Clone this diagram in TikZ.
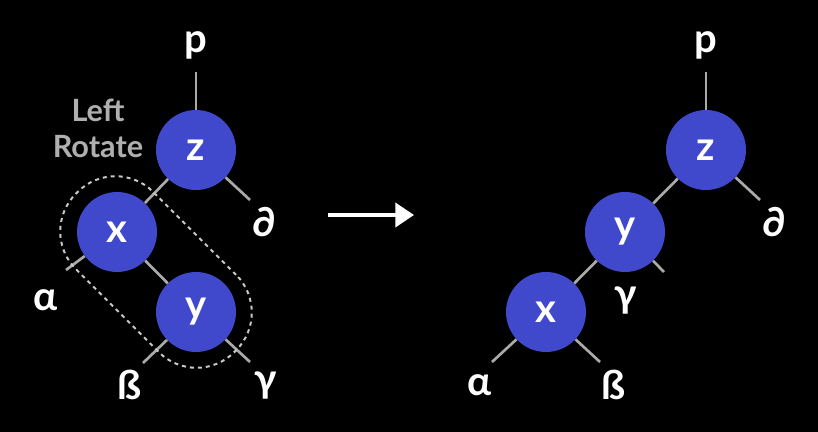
\documentclass[tikz,border=0pt]{standalone}
\usepackage{fontspec}
\setmainfont{Lato}
\usepackage{tikz}
\usetikzlibrary{arrows.meta}
\begin{document}
\begin{tikzpicture}[x=0.75pt,y=0.75pt,yscale=-1,xscale=1,
  rb/.style={circle,fill={rgb,255:red,64;green,72;blue,204},minimum size=60pt,inner sep=0pt,text=white,font=\fontsize{30}{32}\bfseries\selectfont},
  lbl/.style={text=white,font=\fontsize{30}{32}\bfseries\selectfont,inner sep=0pt},
  edge/.style={draw={rgb,255:red,170;green,170;blue,170},line width=2pt}]
%background
\fill[black] (0,0) rectangle (818,432);
\useasboundingbox (0,0) rectangle (818,432);

%left tree
\node[rb] (z1) at (196,150) {z};
\node[rb] (x1) at (117,232) {x};
\node[rb] (y1) at (196,312) {y};
\node[lbl] (p1) at (196,45) {p};
\node[lbl] (d1) at (264,222) {∂};
\node[lbl] (a1) at (46,300) {α};
\node[lbl] (b1) at (130,385) {ß};
\node[lbl] (g1) at (266,385) {γ};
\coordinate (pe1) at (196,72);
\coordinate (de1) at (250,200);
\coordinate (ae1) at (66,270);
\coordinate (be1) at (143,363);
\coordinate (ge1) at (250,362);
\draw[edge] (pe1) -- (z1);
\draw[edge] (z1) -- (de1);
\draw[edge] (z1) -- (x1);
\draw[edge] (x1) -- (y1);
\draw[edge] (x1) -- (ae1);
\draw[edge] (y1) -- (be1);
\draw[edge] (y1) -- (ge1);
\node[text={rgb,255:red,175;green,175;blue,175},font=\fontsize{23}{27}\bfseries\selectfont,align=center] (lr) at (98,128) {Left\\Rotate};
\node[draw={rgb,255:red,200;green,200;blue,200},dashed,line width=1.5pt,rounded corners=40pt,minimum width=168pt,minimum height=82pt,rotate=-45] (cap) at (156,272) {};

%arrow
\coordinate (ar1) at (328,215);
\coordinate (ar2) at (414,215);
\draw[white,line width=3pt,-{Triangle[length=14pt,width=18pt]}] (ar1) -- (ar2);

%right tree
\node[rb] (z2) at (706,150) {z};
\node[rb] (y2) at (625,232) {y};
\node[rb] (x2) at (546,312) {x};
\node[lbl] (p2) at (706,45) {p};
\node[lbl] (d2) at (774,222) {∂};
\node[lbl] (g2) at (626,300) {γ};
\node[lbl] (a2) at (480,385) {α};
\node[lbl] (b2) at (614,385) {ß};
\coordinate (pe2) at (706,72);
\coordinate (de2) at (760,200);
\coordinate (ge2) at (664,272);
\coordinate (ae2) at (492,362);
\coordinate (be2) at (600,362);
\draw[edge] (pe2) -- (z2);
\draw[edge] (z2) -- (de2);
\draw[edge] (z2) -- (y2);
\draw[edge] (y2) -- (x2);
\draw[edge] (y2) -- (ge2);
\draw[edge] (x2) -- (ae2);
\draw[edge] (x2) -- (be2);
\end{tikzpicture}
\end{document}
